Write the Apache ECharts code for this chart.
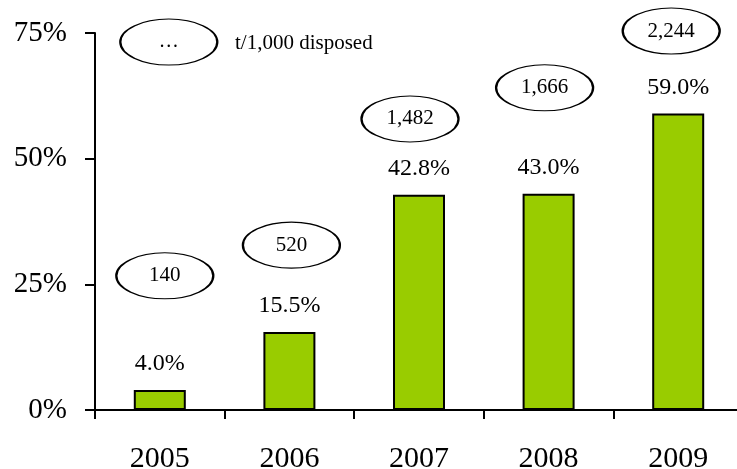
<!DOCTYPE html>
<html>
<head>
<meta charset="utf-8">
<script src="https://cdn.jsdelivr.net/npm/echarts@6/dist/echarts.min.js"></script>
<style>
html,body{margin:0;padding:0;background:#fff;}
#chart{width:737px;height:469px;}
</style>
</head>
<body>
<div id="chart"></div>
<script>
// ---- data ----
const years = ['2005', '2006', '2007', '2008', '2009'];
const sharePct = [4.0, 15.5, 42.8, 43.0, 59.0];
const disposedPerThousand = [140, 520, 1482, 1666, 2244];
const legendText = 't/1,000 disposed';

// ---- layout (annotation placement, in axis units / px offsets) ----
const bubbleLevel = [26.7, 32.8, 57.9, 64.1, 75.4];
const bubbleShift = [5, 2, -9, -4, -7];

const FONT = "'Liberation Serif', 'Times New Roman', serif";
const ELLIPSE = 'path://M0,50C0,22.4 22.4,0 50,0C77.6,0 100,22.4 100,50C100,77.6 77.6,100 50,100C22.4,100 0,77.6 0,50Z';

const chart = echarts.init(document.getElementById('chart'), null, {renderer: 'canvas'});

const bubbleData = years.map((y, i) => ({
  value: [y, bubbleLevel[i]],
  symbolOffset: [bubbleShift[i], 0],
  label: {formatter: disposedPerThousand[i].toLocaleString('en-US')}
}));

chart.setOption({
  animation: false,
  backgroundColor: '#fff',
  grid: {left: 95, top: 33, width: 648, height: 377, containLabel: false, outerBoundsMode: 'none'},
  xAxis: {
    type: 'category',
    data: years,
    boundaryGap: true,
    axisLine: {lineStyle: {color: '#000', width: 2}},
    axisTick: {show: true, length: 9, interval: 0, lineStyle: {color: '#000', width: 2}},
    axisLabel: {color: '#000', fontSize: 30, fontFamily: FONT, margin: 34, interval: 0},
    splitLine: {show: false}
  },
  yAxis: {
    type: 'value',
    min: 0, max: 75, interval: 25,
    axisLine: {show: true, lineStyle: {color: '#000', width: 2}},
    axisTick: {show: true, length: 10, lineStyle: {color: '#000', width: 2}},
    axisLabel: {color: '#000', fontSize: 29, fontFamily: FONT, margin: 28, formatter: '{value}%'},
    splitLine: {show: false}
  },
  series: [
    {
      type: 'bar',
      data: sharePct,
      barWidth: 52,
      itemStyle: {color: '#99cc00', borderColor: '#000', borderWidth: 2},
      label: {
        show: true, position: 'top', distance: 14,
        color: '#000', fontSize: 24, fontFamily: FONT,
        formatter: p => p.value.toFixed(1) + '%'
      },
      z: 2
    },
    {
      type: 'scatter',
      data: bubbleData,
      symbol: ELLIPSE,
      symbolSize: [97, 46],
      clip: false,
      itemStyle: {color: '#fff', borderColor: '#000', borderWidth: 1.6, opacity: 1},
      label: {show: true, position: 'inside', color: '#000', fontSize: 21, fontFamily: FONT},
      emphasis: {disabled: true},
      z: 3
    },
    {
      type: 'scatter',
      data: [{value: [years[0], 73.2], symbolOffset: [9, 0]}],
      symbol: ELLIPSE,
      symbolSize: [97, 46],
      clip: false,
      itemStyle: {color: '#fff', borderColor: '#000', borderWidth: 1.6, opacity: 1},
      label: {show: true, position: 'inside', color: '#000', fontSize: 20, fontFamily: FONT, formatter: '\u2026'},
      emphasis: {disabled: true},
      z: 3
    }
  ],
  graphic: [{
    type: 'text', left: 235, top: 33,
    style: {text: legendText, fill: '#000', fontSize: 21, fontFamily: FONT}
  }]
});
</script>
</body>
</html>
